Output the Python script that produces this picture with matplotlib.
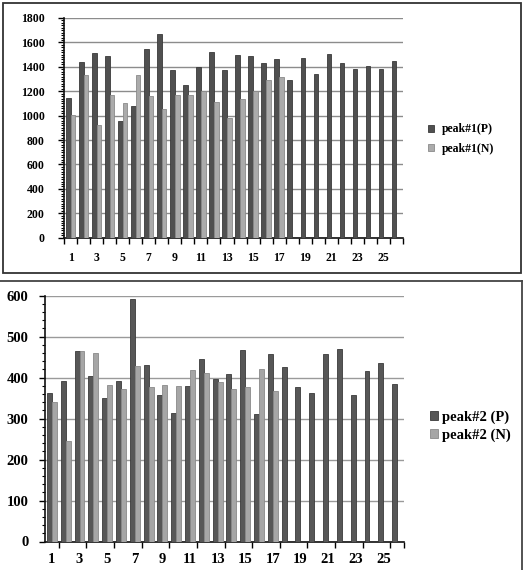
import matplotlib
matplotlib.use('Agg')
import matplotlib.pyplot as plt
from matplotlib.lines import Line2D
from matplotlib.patches import Rectangle
import numpy as np

# Werte
samples = list(range(1, 27))
peak1_p = [1143, 1438, 1517, 1487, 959, 1077, 1545, 1668, 1375, 1255, 1402, 1520, 1375,
           1496, 1487, 1435, 1468, 1293, 1476, 1342, 1506, 1435, 1383, 1408, 1383, 1449]
peak1_n = [1009, 1334, 922, 1173, 1107, 1334, 1164, 1055, 1173, 1173, 1205, 1115, 979,
           1137, 1200, 1293, 1320]
peak2_p = [363, 392, 465, 403, 350, 393, 593, 432, 357, 314, 380, 446, 397,
           410, 468, 312, 458, 427, 378, 362, 458, 470, 357, 417, 435, 384]
peak2_n = [340, 246, 465, 460, 381, 373, 428, 377, 383, 380, 418, 412, 390,
           373, 376, 420, 368]
xlabels = [str(s) if s % 2 == 1 else '' for s in samples]

plt.rcParams['font.family'] = ['Liberation Serif', 'DejaVu Serif']
plt.rcParams['font.weight'] = 'bold'

W, H = 528, 570
fig = plt.figure(figsize=(W / 100, H / 100), dpi=100)


def px_axes(left, top, right, bottom):
    return fig.add_axes([left / W, 1 - bottom / H, (right - left) / W, (bottom - top) / H])


def panel(ax, p, n, ymax, step, grid_col, p_col, n_col, fs, xticks_minor, ypad, xpad):
    x = np.array(samples)
    w = 0.36
    bp = ax.bar(x[:len(p)] - w / 2, p, width=w, color=p_col, edgecolor='#3a3a3a',
                linewidth=0.6, zorder=3)
    bn = ax.bar(x[:len(n)] + w / 2, n, width=w, color=n_col, edgecolor='#8a8a8a',
                linewidth=0.6, zorder=3)
    ax.set_xlim(0.5, 26.5)
    ax.set_ylim(0, ymax)
    ax.set_yticks(np.arange(0, ymax + 1, step))
    ax.set_yticks(np.arange(0, ymax + 1, 20), minor=True)
    ax.set_xticks(samples)
    ax.set_xticklabels(xlabels)
    ax.set_xticks(xticks_minor, minor=True)
    ax.tick_params(axis='x', which='major', length=0, labelsize=fs, pad=xpad)
    ax.tick_params(axis='x', which='minor', length=4, width=1, direction='out')
    ax.tick_params(axis='y', which='major', length=4, width=1, labelsize=fs, pad=ypad)
    ax.tick_params(axis='y', which='minor', length=2, width=0.8)
    ax.set_axisbelow(True)
    ax.yaxis.grid(True, color=grid_col, linewidth=1)
    for s in ['top', 'right']:
        ax.spines[s].set_visible(False)
    for s in ['left', 'bottom']:
        ax.spines[s].set_color('#111111')
        ax.spines[s].set_linewidth(1.2)
    return bp, bn


# oberes Diagramm
ax1 = px_axes(64, 18, 403, 237.7)
b1p, b1n = panel(ax1, peak1_p, peak1_n, 1800, 200, '#8c8c8c', '#505050', '#ababab', 8.5,
                 np.arange(0.5, 27, 1), 10, 10)
ax1.legend([b1p, b1n], ['peak#1(P)', 'peak#1(N)'], loc='center left',
           bbox_to_anchor=(428 / W, 1 - 139 / H), bbox_transform=fig.transFigure,
           frameon=False, fontsize=8.5, handlelength=0.55, handleheight=0.55,
           handletextpad=0.6, labelspacing=0.6, borderpad=0, borderaxespad=0)

# unteres Diagramm
ax2 = px_axes(45, 295.7, 404, 541.5)
b2p, b2n = panel(ax2, peak2_p, peak2_n, 600, 100, '#9a9a9a', '#575757', '#a6a6a6', 10.5,
                 list(np.arange(1.5, 26, 2)) + [26.5], 8, 8)
ax2.legend([b2p, b2n], ['peak#2 (P)', 'peak#2 (N)'], loc='center left',
           bbox_to_anchor=(430 / W, 1 - 426 / H), bbox_transform=fig.transFigure,
           frameon=False, fontsize=10.5, handlelength=0.55, handleheight=0.55,
           handletextpad=0.3, labelspacing=0.3, borderpad=0, borderaxespad=0)

# Rahmen
fig.patches.append(Rectangle((3 / W, 1 - 273 / H), 518 / W, 270 / H, fill=False,
                             edgecolor='#333333', linewidth=1.3, transform=fig.transFigure))
fig.lines.append(Line2D([0, 522 / W], [1 - 281 / H, 1 - 281 / H], color='#444444',
                        linewidth=1.3, transform=fig.transFigure))
fig.lines.append(Line2D([522 / W, 522 / W], [0, 1 - 281 / H], color='#444444',
                        linewidth=1.3, transform=fig.transFigure))

fig.savefig('out.png', dpi=100)
